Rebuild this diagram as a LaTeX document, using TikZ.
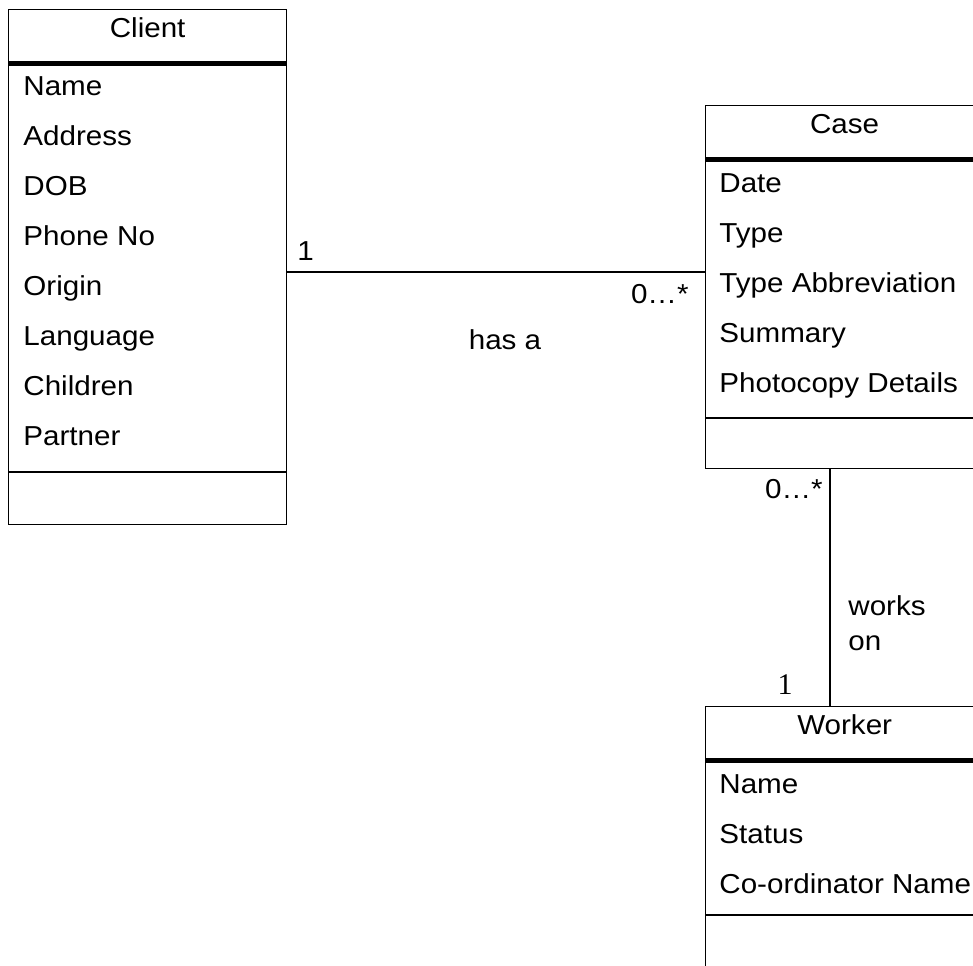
\documentclass[tikz,border=0pt]{standalone}
\usepackage{fontspec}
\setmainfont{Liberation Sans}[FakeStretch=1.08]
\newfontfamily\onefont{Liberation Serif}
\usetikzlibrary{positioning}

\tikzset{
  umlclass/.style={draw, line width=0.65pt, anchor=north west, inner sep=0pt,
    minimum width=139pt},
  classname/.style={anchor=base, inner sep=0pt},
  attr/.style={anchor=base west, inner sep=0pt},
  headline/.style={line width=2.5pt},
  sepline/.style={line width=0.65pt},
  assoc/.style={line width=0.7pt},
  mult/.style={inner sep=0pt},
}

\begin{document}
\begin{tikzpicture}[x=0.5pt, y=-0.5pt, font=\fontsize{13.7}{16}\selectfont]
    \useasboundingbox (0,0) rectangle (973,965);

    % Define class boxes
    \node[umlclass, minimum height=257.5pt] (client) at (8,9) {};
    \node[umlclass, minimum height=181.5pt] (case) at (705,105) {};
    \node[umlclass, minimum height=130.5pt] (worker) at (705,706) {};

    % Client
    \node[classname] (client-t) at ([yshift=-14pt]client.north) {Client};
    \draw[headline] ([yshift=-27.25pt]client.north west) -- ([yshift=-27.25pt]client.north east);
    \node[attr] (cl-name) at ([xshift=7.5pt, yshift=-43pt]client.north west) {Name};
    \node[attr] (cl-addr) at ([yshift=-25pt]cl-name.base west) {Address};
    \node[attr] (cl-dob) at ([yshift=-25pt]cl-addr.base west) {DOB};
    \node[attr] (cl-phone) at ([yshift=-25pt]cl-dob.base west) {Phone No};
    \node[attr] (cl-origin) at ([yshift=-25pt]cl-phone.base west) {Origin};
    \node[attr] (cl-lang) at ([yshift=-25pt]cl-origin.base west) {Language};
    \node[attr] (cl-child) at ([yshift=-25pt]cl-lang.base west) {Children};
    \node[attr] (cl-partner) at ([yshift=-25pt]cl-child.base west) {Partner};
    \draw[sepline] ([yshift=-231.5pt]client.north west) -- ([yshift=-231.5pt]client.north east);

    % Case
    \node[classname] (case-t) at ([yshift=-14pt]case.north) {Case};
    \draw[headline] ([yshift=-27.25pt]case.north west) -- ([yshift=-27.25pt]case.north east);
    \node[attr] (ca-date) at ([xshift=7pt, yshift=-43.5pt]case.north west) {Date};
    \node[attr] (ca-type) at ([yshift=-25pt]ca-date.base west) {Type};
    \node[attr] (ca-abbr) at ([yshift=-25pt]ca-type.base west) {Type Abbreviation};
    \node[attr] (ca-summ) at ([yshift=-25pt]ca-abbr.base west) {Summary};
    \node[attr] (ca-photo) at ([yshift=-25pt]ca-summ.base west) {Photocopy Details};
    \draw[sepline] ([yshift=-156.5pt]case.north west) -- ([yshift=-156.5pt]case.north east);

    % Worker
    \node[classname] (worker-t) at ([yshift=-14pt]worker.north) {Worker};
    \draw[headline] ([yshift=-27.25pt]worker.north west) -- ([yshift=-27.25pt]worker.north east);
    \node[attr] (wo-name) at ([xshift=7pt, yshift=-43.5pt]worker.north west) {Name};
    \node[attr] (wo-status) at ([yshift=-25pt]wo-name.base west) {Status};
    \node[attr] (wo-coord) at ([yshift=-25pt]wo-status.base west) {Co-ordinator Name};
    \draw[sepline] ([yshift=-104.5pt]worker.north west) -- ([yshift=-104.5pt]worker.north east);

    % Associations
    \coordinate (hasa-y) at (0,272);
    \coordinate (works-x) at (830,0);
    \draw[assoc] (client.east |- hasa-y) -- (case.west |- hasa-y);
    \draw[assoc] (case.south -| works-x) -- (worker.north -| works-x);

    \node[mult, anchor=base west] (m-client) at (297,260) {1};
    \node[mult, anchor=base east] (m-case1) at (689,303) {0…*};
    \node[mult, anchor=base] (hasa) at (505,349) {has a};

    \node[mult, anchor=base east] (m-case2) at (823,498) {0…*};
    \node[mult, anchor=base west] (works) at (848,615) {works};
    \node[mult, anchor=base west] (on) at (848,650) {on};
    \node[mult, anchor=base] (m-worker) at (785,694) {\onefont\fontsize{15}{18}\selectfont 1};

\end{tikzpicture}
\end{document}
